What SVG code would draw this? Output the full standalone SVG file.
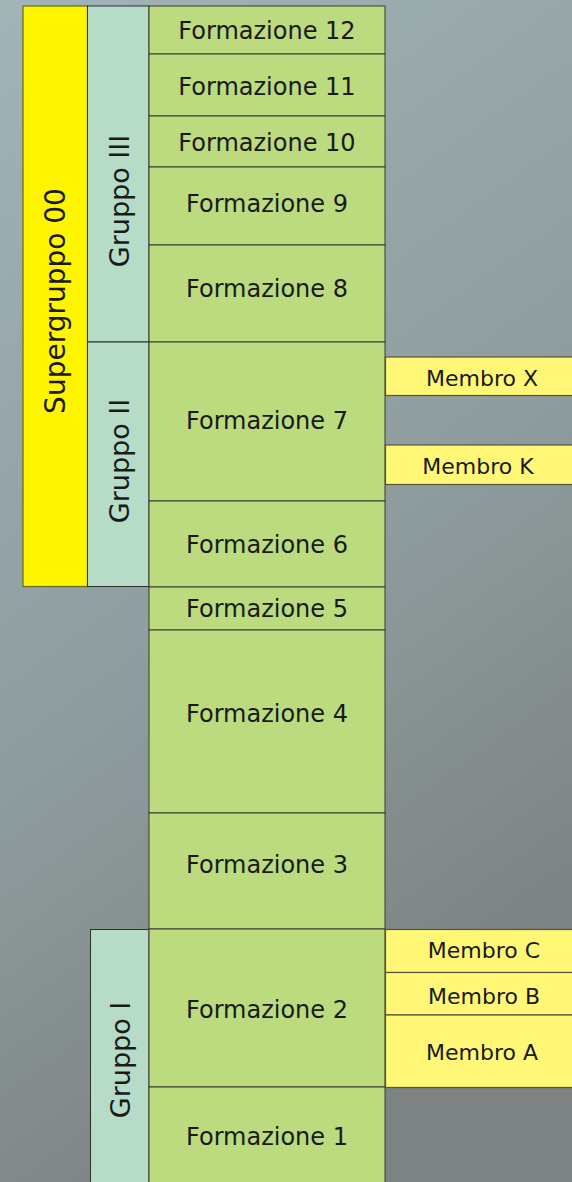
<svg xmlns="http://www.w3.org/2000/svg" width="572" height="1182" viewBox="0 0 572 1182">
<defs>
<linearGradient id="bg" x1="0" y1="0" x2="0.35" y2="1">
<stop offset="0" stop-color="#a1b4b7"/>
<stop offset="0.6" stop-color="#8e9c9d"/>
<stop offset="1" stop-color="#7d8283"/>
</linearGradient>
<style>
.t{font-family:"Comic Sans MS","DejaVu Sans",sans-serif;fill:#1a1a1a;text-anchor:middle;dominant-baseline:central}
.f{font-size:24px}
.m{font-size:22px}
.g{font-size:27px}
.s{font-size:28px}
.fr{fill:#bbdb7e;stroke:#3b3b30;stroke-width:1}
.mr{fill:#fff775;stroke:#55553a;stroke-width:1.2}
.gr{fill:#b6dcc8;stroke:#2e2e2e;stroke-width:1}
.sr{fill:#fff500;stroke:#6b6a10;stroke-width:1.2}
</style>
</defs>
<rect x="0" y="0" width="572" height="1182" fill="url(#bg)"/>

<g id="supergruppo00"><rect class="sr" x="23" y="6" width="64.5" height="580.5"/><text class="t s" transform="translate(55,301) rotate(-90)">Supergruppo 00</text></g>
<g id="gruppo3"><rect class="gr" x="87.5" y="6" width="61.5" height="336"/><text class="t g" transform="translate(119,201) rotate(-90)">Gruppo III</text></g>
<g id="gruppo2"><rect class="gr" x="87.5" y="342" width="61.5" height="244.5"/><text class="t g" transform="translate(119,461) rotate(-90)">Gruppo II</text></g>
<g id="gruppo1"><rect class="gr" x="90.5" y="929.5" width="58.5" height="260"/><text class="t g" transform="translate(120,1060) rotate(-90)">Gruppo I</text></g>

<g id="formazione12"><rect class="fr" x="149" y="6" width="236" height="48"/><text class="t f" x="267" y="31">Formazione 12</text></g>
<g id="formazione11"><rect class="fr" x="149" y="54" width="236" height="62"/><text class="t f" x="267" y="87">Formazione 11</text></g>
<g id="formazione10"><rect class="fr" x="149" y="116" width="236" height="51"/><text class="t f" x="267" y="143">Formazione 10</text></g>
<g id="formazione9"><rect class="fr" x="149" y="167" width="236" height="78"/><text class="t f" x="267" y="204">Formazione 9</text></g>
<g id="formazione8"><rect class="fr" x="149" y="245" width="236" height="97"/><text class="t f" x="267" y="289">Formazione 8</text></g>
<g id="formazione7"><rect class="fr" x="149" y="342" width="236" height="159"/><text class="t f" x="267" y="421">Formazione 7</text></g>
<g id="formazione6"><rect class="fr" x="149" y="501" width="236" height="86"/><text class="t f" x="267" y="545">Formazione 6</text></g>
<g id="formazione5"><rect class="fr" x="149" y="587" width="236" height="43"/><text class="t f" x="267" y="609">Formazione 5</text></g>
<g id="formazione4"><rect class="fr" x="149" y="630" width="236" height="183"/><text class="t f" x="267" y="714">Formazione 4</text></g>
<g id="formazione3"><rect class="fr" x="149" y="813" width="236" height="116"/><text class="t f" x="267" y="865">Formazione 3</text></g>
<g id="formazione2"><rect class="fr" x="149" y="929" width="236" height="158"/><text class="t f" x="267" y="1010">Formazione 2</text></g>
<g id="formazione1"><rect class="fr" x="149" y="1087" width="236" height="100"/><text class="t f" x="267" y="1137">Formazione 1</text></g>

<g id="membroX"><rect class="mr" x="385.5" y="357" width="190" height="38.5"/><text class="t m" x="482" y="378">Membro X</text></g>
<g id="membroK"><rect class="mr" x="385.5" y="445" width="190" height="39.5"/><text class="t m" x="478" y="466">Membro K</text></g>
<g id="membroC"><rect class="mr" x="385.5" y="929.5" width="190" height="43"/><text class="t m" x="484" y="950">Membro C</text></g>
<g id="membroB"><rect class="mr" x="385.5" y="972.5" width="190" height="42.5"/><text class="t m" x="484" y="996">Membro B</text></g>
<g id="membroA"><rect class="mr" x="385.5" y="1015" width="190" height="72.5"/><text class="t m" x="482" y="1052">Membro A</text></g>

<g id="connectors"></g>
</svg>
